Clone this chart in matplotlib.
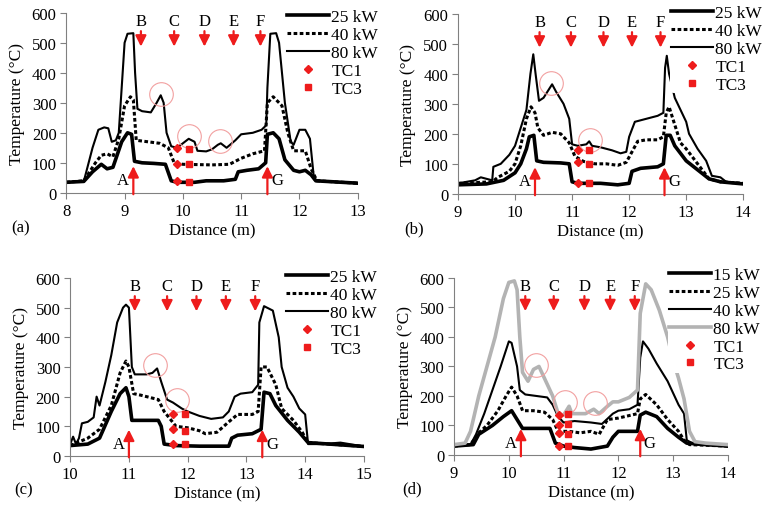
import numpy as np
import matplotlib.pyplot as plt

plt.rcParams['font.family'] = ['Liberation Serif', 'DejaVu Serif']
plt.rcParams['font.size'] = 12

# ---- panel (a) ----
a_25 = [(8.0, 35), (8.3, 38), (8.45, 70), (8.6, 95), (8.7, 80), (8.8, 85), (8.95, 170), (9.05, 200),
        (9.12, 195), (9.17, 105), (9.3, 100), (9.5, 98), (9.7, 95), (9.8, 40), (9.9, 35), (10.2, 35),
        (10.4, 40), (10.7, 40), (10.9, 45), (10.95, 70), (11.1, 75), (11.3, 80), (11.42, 100),
        (11.45, 195), (11.55, 200), (11.65, 180), (11.75, 110), (11.9, 75), (12.0, 70), (12.1, 75),
        (12.2, 60), (12.28, 40), (13.0, 32)]
a_40 = [(8.0, 35), (8.3, 40), (8.5, 100), (8.6, 125), (8.7, 130), (8.8, 120), (8.9, 180), (9.0, 290),
        (9.1, 320), (9.15, 310), (9.2, 175), (9.4, 170), (9.6, 165), (9.75, 150), (9.85, 100),
        (10.0, 95), (10.5, 93), (10.8, 95), (11.0, 115), (11.2, 130), (11.4, 140), (11.45, 300),
        (11.55, 320), (11.7, 290), (11.8, 200), (11.9, 140), (12.1, 140), (12.2, 80), (12.3, 40),
        (13.0, 32)]
a_80 = [(8.0, 35), (8.3, 38), (8.45, 150), (8.55, 210), (8.65, 218), (8.72, 215), (8.78, 170),
        (8.85, 175), (8.9, 200), (8.95, 350), (9.0, 500), (9.05, 530), (9.15, 532), (9.18, 400),
        (9.22, 280), (9.3, 272), (9.45, 268), (9.55, 300), (9.62, 325), (9.67, 300), (9.72, 200),
        (9.8, 155), (9.9, 150), (10.0, 165), (10.1, 180), (10.2, 170), (10.25, 140), (10.4, 138),
        (10.5, 145), (10.6, 160), (10.65, 165), (10.75, 150), (10.9, 175), (11.0, 195), (11.2, 200),
        (11.35, 210), (11.43, 225), (11.45, 350), (11.5, 530), (11.6, 532), (11.65, 500),
        (11.75, 300), (11.85, 170), (11.9, 160), (12.0, 210), (12.1, 210), (12.18, 180),
        (12.25, 45), (12.4, 38), (13.0, 32)]
a_tc1 = [(9.9, 150), (9.9, 95), (9.9, 38)]
a_tc3 = [(10.1, 145), (10.1, 95), (10.1, 35)]
a_down = [9.28, 9.85, 10.37, 10.87, 11.33]
a_up = [9.15, 11.45]
a_circ = [(9.63, 330), (10.1, 190), (10.63, 172)]

# ---- panel (b) ----
b_25 = [(9.0, 30), (9.5, 33), (9.8, 45), (10.0, 70), (10.1, 100), (10.2, 150), (10.25, 190),
        (10.33, 195), (10.38, 110), (10.5, 105), (10.8, 103), (10.95, 100), (11.0, 40), (11.1, 35),
        (11.5, 35), (11.8, 30), (12.0, 35), (12.05, 75), (12.2, 85), (12.5, 90), (12.6, 100),
        (12.65, 195), (12.72, 195), (12.8, 160), (13.0, 110), (13.2, 80), (13.4, 50), (13.6, 40),
        (14.0, 33)]
b_40 = [(9.0, 35), (9.6, 40), (9.7, 55), (9.9, 75), (10.0, 100), (10.1, 160), (10.2, 250),
        (10.28, 290), (10.35, 270), (10.4, 220), (10.5, 195), (10.65, 205), (10.8, 200),
        (10.95, 170), (11.05, 125), (11.2, 108), (11.4, 100), (11.6, 100), (11.8, 95), (11.95, 105),
        (12.05, 140), (12.15, 175), (12.3, 180), (12.5, 180), (12.6, 190), (12.65, 270), (12.7, 290),
        (12.8, 230), (12.9, 170), (13.0, 150), (13.2, 100), (13.4, 50), (13.6, 40), (14.0, 35)]
b_80 = [(9.0, 35), (9.3, 45), (9.4, 55), (9.6, 45), (9.62, 90), (9.75, 100), (9.9, 130), (10.0, 160),
        (10.1, 220), (10.2, 280), (10.27, 400), (10.32, 465), (10.36, 400), (10.42, 310), (10.5, 320),
        (10.6, 350), (10.65, 365), (10.72, 340), (10.85, 300), (10.95, 250), (11.0, 165), (11.1, 160),
        (11.25, 165), (11.3, 175), (11.35, 160), (11.5, 155), (11.6, 150), (11.7, 145), (11.85, 135),
        (11.95, 140), (12.0, 190), (12.1, 240), (12.3, 250), (12.5, 260), (12.6, 270), (12.63, 420),
        (12.66, 460), (12.7, 400), (12.8, 320), (12.95, 260), (13.0, 240), (13.05, 200), (13.2, 150),
        (13.35, 110), (13.45, 60), (13.6, 55), (13.7, 40), (14.0, 35)]
b_tc1 = [(11.1, 145), (11.1, 105), (11.1, 35)]
b_tc3 = [(11.3, 145), (11.3, 100), (11.3, 35)]
b_down = [10.43, 10.98, 11.55, 12.05, 12.55]
b_up = [10.35, 12.62]
b_circ = [(10.63, 370), (11.32, 180)]

# ---- panel (c) ----
c_25 = [(10.0, 35), (10.3, 40), (10.5, 60), (10.7, 150), (10.85, 210), (10.95, 230), (11.0, 200),
        (11.05, 120), (11.2, 120), (11.5, 120), (11.55, 100), (11.6, 40), (11.8, 35), (12.2, 33),
        (12.7, 33), (12.75, 60), (12.85, 70), (13.1, 75), (13.25, 90), (13.3, 215), (13.4, 210),
        (13.5, 170), (13.7, 120), (13.9, 80), (14.05, 45), (15.0, 32)]
c_40 = [(10.0, 35), (10.3, 60), (10.5, 90), (10.7, 170), (10.85, 280), (10.95, 320), (11.0, 300),
        (11.08, 210), (11.2, 205), (11.4, 195), (11.5, 190), (11.6, 150), (11.8, 100), (12.0, 95),
        (12.2, 85), (12.3, 75), (12.5, 80), (12.7, 115), (12.85, 140), (13.1, 140), (13.2, 150),
        (13.25, 300), (13.35, 300), (13.5, 240), (13.6, 160), (13.8, 120), (13.95, 80), (14.05, 45),
        (15.0, 32)]
c_80 = [(10.0, 40), (10.05, 65), (10.1, 40), (10.15, 60), (10.2, 110), (10.3, 115), (10.4, 130),
        (10.45, 200), (10.5, 170), (10.6, 250), (10.7, 340), (10.8, 450), (10.9, 500), (10.95, 510),
        (11.0, 500), (11.05, 300), (11.1, 275), (11.3, 275), (11.4, 280), (11.48, 295), (11.55, 250),
        (11.65, 190), (11.75, 180), (11.9, 160), (12.0, 150), (12.2, 135), (12.4, 125), (12.6, 130),
        (12.7, 150), (12.8, 200), (12.9, 210), (13.1, 215), (13.2, 240), (13.22, 450), (13.3, 505),
        (13.45, 490), (13.55, 400), (13.6, 300), (13.7, 230), (13.8, 200), (13.9, 160), (14.0, 140),
        (14.05, 40), (14.3, 40), (14.6, 45), (15.0, 32)]
c_tc1 = [(11.75, 140), (11.75, 90), (11.75, 40)]
c_tc3 = [(11.95, 140), (11.95, 85), (11.95, 40)]
c_down = [11.1, 11.65, 12.15, 12.65, 13.15]
c_up = [11.0, 13.27]
c_circ = [(11.45, 305), (11.82, 190)]

# ---- panel (d) ----
d_15 = [(9.0, 30), (9.35, 35), (9.45, 70), (9.7, 100), (9.9, 130), (10.05, 150), (10.15, 120),
        (10.25, 90), (10.5, 90), (10.75, 90), (10.85, 40), (11.0, 30), (11.2, 25), (11.5, 20),
        (11.8, 30), (11.9, 60), (12.0, 80), (12.35, 80), (12.4, 135), (12.5, 145), (12.7, 130),
        (12.9, 90), (13.1, 60), (13.25, 40), (14.0, 30)]
d_25 = [(9.0, 30), (9.3, 35), (9.45, 75), (9.6, 100), (9.8, 150), (9.95, 200), (10.05, 230),
        (10.15, 200), (10.25, 150), (10.45, 150), (10.65, 145), (10.8, 120), (10.9, 80), (11.1, 80),
        (11.3, 75), (11.5, 80), (11.65, 70), (11.8, 120), (12.0, 125), (12.35, 140), (12.4, 190),
        (12.5, 205), (12.7, 170), (12.9, 120), (13.1, 80), (13.2, 50), (13.3, 35), (14.0, 30)]
d_40 = [(9.0, 30), (9.3, 35), (9.4, 70), (9.55, 140), (9.7, 220), (9.85, 300), (10.0, 385),
        (10.05, 380), (10.15, 300), (10.2, 220), (10.3, 205), (10.5, 200), (10.7, 195), (10.8, 170),
        (10.9, 130), (11.0, 110), (11.2, 115), (11.5, 110), (11.7, 105), (11.9, 140), (12.0, 150),
        (12.2, 155), (12.35, 170), (12.4, 330), (12.45, 385), (12.55, 360), (12.7, 310), (12.9, 250),
        (13.0, 210), (13.1, 170), (13.2, 140), (13.25, 50), (13.4, 35), (14.0, 30)]
d_80 = [(9.0, 35), (9.2, 40), (9.3, 80), (9.45, 200), (9.6, 300), (9.75, 400), (9.9, 530),
        (10.0, 585), (10.1, 590), (10.15, 560), (10.2, 400), (10.25, 280), (10.35, 250), (10.45, 290),
        (10.55, 300), (10.65, 260), (10.8, 200), (10.9, 140), (11.0, 135), (11.1, 165), (11.15, 140),
        (11.4, 140), (11.55, 155), (11.65, 140), (11.8, 165), (11.9, 180), (12.0, 180), (12.2, 195),
        (12.35, 220), (12.4, 480), (12.5, 580), (12.6, 560), (12.75, 490), (12.9, 400), (13.0, 320),
        (13.1, 260), (13.2, 190), (13.3, 80), (13.4, 45), (13.6, 40), (14.0, 35)]
d_tc1 = [(10.92, 135), (10.92, 100), (10.92, 75), (10.92, 30)]
d_tc3 = [(11.08, 140), (11.08, 105), (11.08, 72), (11.08, 30)]
d_down = [10.3, 10.82, 11.38, 11.85, 12.3]
d_up = [10.22, 12.4]
d_circ = [(10.5, 305), (11.02, 180), (11.57, 175)]

down_labels = ['B', 'C', 'D', 'E', 'F']
up_labels = ['A', 'G']

THICK = dict(color='black', lw=2.6, ls='-')
DOT = dict(color='black', lw=2.2, ls=(0, (1.2, 0.8)))
THIN = dict(color='black', lw=1.5, ls='-')
GRAY = dict(color='#b3b3b3', lw=2.6, ls='-')
RED = '#ee1c1c'
CIRC = '#f2a0a0'
W, H = 771, 510


def xy(pts):
    arr = np.array(pts, dtype=float)
    return arr[:, 0], arr[:, 1]


def panel(ax, xlim, series, tc1, tc3, down, up, circ, letter, leg_px):
    handles = []
    for pts, style, lab in series:
        x, y = xy(pts)
        ln, = ax.plot(x, y, label=lab, **style)
        handles.append(ln)
    x, y = xy(tc1)
    h1, = ax.plot(x, y, 'D', color=RED, ms=4.5, ls='none', label='TC1', zorder=4)
    x, y = xy(tc3)
    h3, = ax.plot(x, y, 's', color=RED, ms=5, ls='none', label='TC3', zorder=4)
    handles += [h1, h3]
    x, y = xy(circ)
    ax.plot(x, y, 'o', ms=17, mfc='none', mec=CIRC, mew=0.8, ls='none')

    for xv, lab in zip(down, down_labels):
        ax.annotate('', xy=(xv, 478), xytext=(xv, 548),
                    arrowprops=dict(arrowstyle='-|>', color=RED, lw=1.6, mutation_scale=16))
        ax.text(xv, 572, lab, ha='center', va='center', fontsize=12)
    span = xlim[1] - xlim[0]
    for k, (xv, lab) in enumerate(zip(up, up_labels)):
        ax.annotate('', xy=(xv, 98), xytext=(xv, -14),
                    arrowprops=dict(arrowstyle='-|>', color=RED, lw=1.6, mutation_scale=16),
                    annotation_clip=False)
        off = -0.035 * span if k == 0 else 0.035 * span
        ax.text(xv + off, 42, lab, ha='center', va='center', fontsize=12)

    ax.set_xlim(*xlim)
    ax.set_ylim(0, 600)
    ax.set_xticks(np.arange(xlim[0], xlim[1] + 0.5, 1))
    ax.set_yticks(np.arange(0, 601, 100))
    ax.spines['top'].set_visible(False)
    ax.spines['right'].set_visible(False)
    ax.spines['left'].set_color('#808080')
    ax.spines['bottom'].set_color('#808080')
    ax.tick_params(direction='out', length=4, color='#808080', labelsize=12, pad=3)
    ax.set_xlabel('Distance (m)', fontsize=12, labelpad=3)
    ax.set_ylabel('Temperature (°C)', fontsize=12.5, labelpad=5)
    ax.text(-0.19, -0.19, letter, transform=ax.transAxes, fontsize=12, ha='left', va='center')

    leg = ax.legend(handles=handles, loc='upper right',
                    bbox_to_anchor=(leg_px[0] / W, 1 - leg_px[1] / H),
                    bbox_transform=ax.figure.transFigure,
                    frameon=True, facecolor='white', edgecolor='none', framealpha=1,
                    fontsize=12.5, handlelength=2.4, handletextpad=0.15, labelspacing=0.1,
                    borderpad=0.05, borderaxespad=0)
    leg.set_zorder(5)


fig = plt.figure(figsize=(W / 100, H / 100), dpi=100)
ax_a = fig.add_axes([0.086, 0.620, 0.378, 0.353])
ax_b = fig.add_axes([0.594, 0.618, 0.370, 0.353])
ax_c = fig.add_axes([0.091, 0.104, 0.381, 0.349])
ax_d = fig.add_axes([0.589, 0.106, 0.355, 0.347])

panel(ax_a, (8, 13), [(a_25, THICK, '25 kW'), (a_40, DOT, '40 kW'), (a_80, THIN, '80 kW')],
      a_tc1, a_tc3, a_down, a_up, a_circ, '(a)', (379, 9))
panel(ax_b, (9, 14), [(b_25, THICK, '25 kW'), (b_40, DOT, '40 kW'), (b_80, THIN, '80 kW')],
      b_tc1, b_tc3, b_down, b_up, b_circ, '(b)', (763, 5))
panel(ax_c, (10, 15), [(c_25, THICK, '25 kW'), (c_40, DOT, '40 kW'), (c_80, THIN, '80 kW')],
      c_tc1, c_tc3, c_down, c_up, c_circ, '(c)', (378, 269))
panel(ax_d, (9, 14), [(d_15, THICK, '15 kW'), (d_25, DOT, '25 kW'), (d_40, THIN, '40 kW'),
                      (d_80, GRAY, '80 kW')],
      d_tc1, d_tc3, d_down, d_up, d_circ, '(d)', (761, 267))

fig.savefig('out.png', dpi=100)
